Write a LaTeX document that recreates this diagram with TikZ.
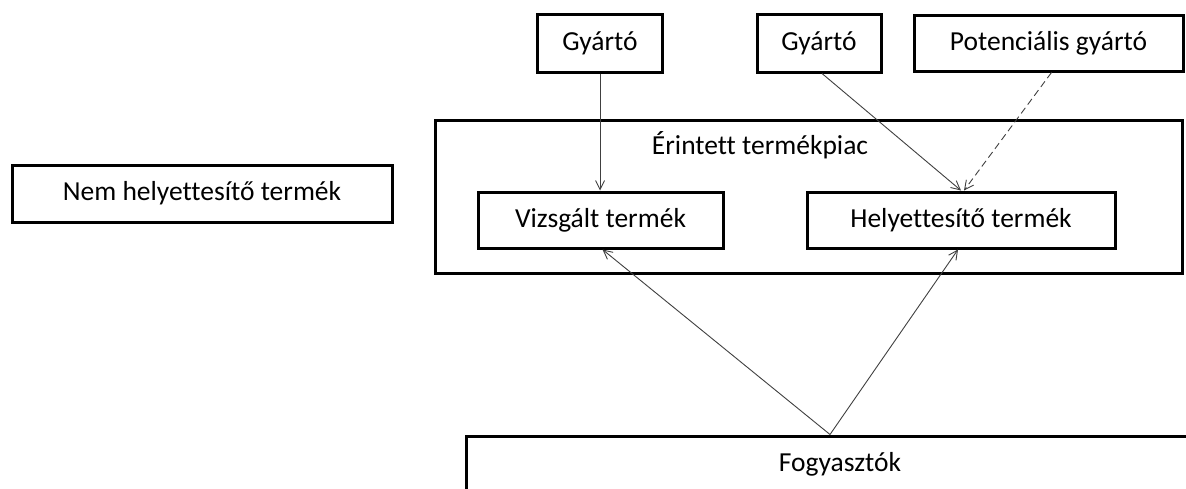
\documentclass[tikz,border=0pt]{standalone}
\usepackage{fontspec}
\setmainfont{Carlito}[Ligatures=NoCommon]
\usetikzlibrary{arrows.meta,positioning}
\tikzset{
  bx/.style={rectangle,draw,line width=3pt,inner sep=0pt,font=\fontsize{27.5}{31}\selectfont},
  ed/.style={-{Straight Barb[length=9pt,width=9pt]},line width=0.9pt,draw=black!75},
  pd/.style={ed,dash pattern=on 7pt off 4pt},
}

\begin{document}
\begin{tikzpicture}[x=1pt,y=-1pt]
  \useasboundingbox (0,0) rectangle (1186,488);
  \node[bx,minimum width=125,minimum height=58] (gy1) at (600,43) {Gyártó};
  \node[bx,minimum width=124,minimum height=58] (gy2) at (819,43) {Gyártó};
  \node[bx,minimum width=269,minimum height=56] (pgy) at (1048.5,43) {Potenciális gyártó};
  \node[bx,minimum width=747,minimum height=153] (piac) at (808.5,196.5) {};
  \node[font=\fontsize{27.5}{31}\selectfont] (piaclbl) at (760,145) {Érintett termékpiac};
  \node[bx,minimum width=245,minimum height=56] (vt) at (600.5,220) {Vizsgált termék};
  \node[bx,minimum width=308,minimum height=56] (ht) at (961,220) {Helyettesítő termék};
  \node[bx,minimum width=380,minimum height=57] (nht) at (202,193.5) {Nem helyettesítő termék};
  \node[bx,minimum width=748,minimum height=56] (fo) at (840,464) {Fogyasztók};

  \draw[ed] (gy1.south) -- (gy1.south |- vt.north);
  \draw[ed] ([xshift=3pt]gy2.south) -- (ht.north);
  \draw[pd] ([xshift=3pt]pgy.south) -- ([xshift=3pt]ht.north);
  \draw[ed] ([xshift=-10pt]fo.north) -- ([xshift=2pt]vt.south);
  \draw[ed] ([xshift=-10pt]fo.north) -- ([xshift=-3pt]ht.south);
\end{tikzpicture}
\end{document}
